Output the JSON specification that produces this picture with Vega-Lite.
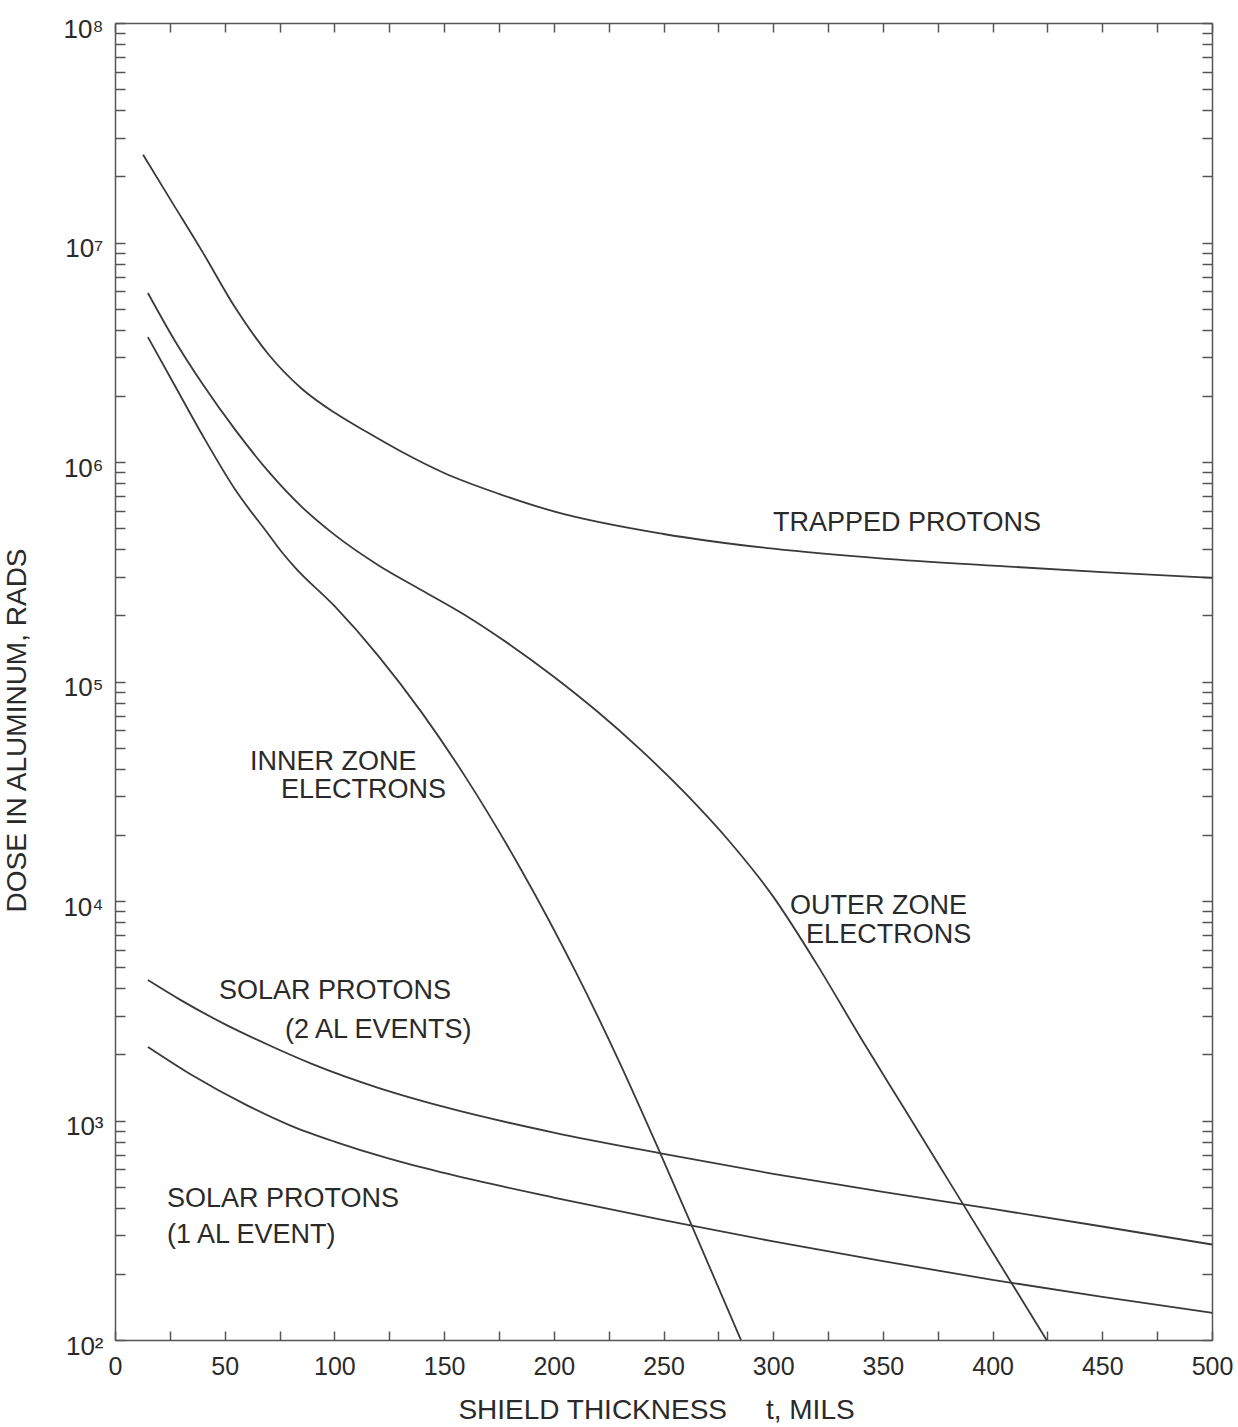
{
  "$schema": "https://vega.github.io/schema/vega-lite/v6.json",
  "width": 1097,
  "height": 1317,
  "autosize": {"type": "none"},
  "padding": {"left": 115, "top": 23, "right": 26, "bottom": 87},
  "background": "white",
  "config": {"view": {"stroke": null}, "font": "Liberation Sans"},
  "datasets": {
    "curves": [
      {"series": "trapped", "t": 12.8, "dose": 25120000},
      {"series": "trapped", "t": 25, "dose": 15850000},
      {"series": "trapped", "t": 40, "dose": 9016000},
      {"series": "trapped", "t": 55, "dose": 5012000},
      {"series": "trapped", "t": 70, "dose": 3090000},
      {"series": "trapped", "t": 85, "dose": 2163000},
      {"series": "trapped", "t": 100, "dose": 1679000},
      {"series": "trapped", "t": 115, "dose": 1365000},
      {"series": "trapped", "t": 130, "dose": 1122000},
      {"series": "trapped", "t": 150, "dose": 891300},
      {"series": "trapped", "t": 175, "dose": 716100},
      {"series": "trapped", "t": 200, "dose": 595700},
      {"series": "trapped", "t": 250, "dose": 469900},
      {"series": "trapped", "t": 300, "dose": 402700},
      {"series": "trapped", "t": 350, "dose": 363100},
      {"series": "trapped", "t": 400, "dose": 337300},
      {"series": "trapped", "t": 450, "dose": 314800},
      {"series": "trapped", "t": 500, "dose": 296500},

      {"series": "outer", "t": 15, "dose": 5888000},
      {"series": "outer", "t": 27, "dose": 3606000},
      {"series": "outer", "t": 40, "dose": 2259000},
      {"series": "outer", "t": 55, "dose": 1393000},
      {"series": "outer", "t": 70, "dose": 903600},
      {"series": "outer", "t": 85, "dose": 626600},
      {"series": "outer", "t": 100, "dose": 466700},
      {"series": "outer", "t": 120, "dose": 338800},
      {"series": "outer", "t": 140, "dose": 260000},
      {"series": "outer", "t": 160, "dose": 199500},
      {"series": "outer", "t": 180, "dose": 147200},
      {"series": "outer", "t": 200, "dose": 105200},
      {"series": "outer", "t": 220, "dose": 72780},
      {"series": "outer", "t": 240, "dose": 48420},
      {"series": "outer", "t": 260, "dose": 30900},
      {"series": "outer", "t": 280, "dose": 18710},
      {"series": "outer", "t": 300, "dose": 10470},
      {"series": "outer", "t": 320, "dose": 5129},
      {"series": "outer", "t": 340, "dose": 2371},
      {"series": "outer", "t": 360, "dose": 1122},
      {"series": "outer", "t": 380, "dose": 530.9},
      {"series": "outer", "t": 400, "dose": 251.2},
      {"series": "outer", "t": 424.6, "dose": 100},

      {"series": "inner", "t": 15, "dose": 3707000},
      {"series": "inner", "t": 27, "dose": 2254000},
      {"series": "inner", "t": 40, "dose": 1318000},
      {"series": "inner", "t": 55, "dose": 743000},
      {"series": "inner", "t": 70, "dose": 467700},
      {"series": "inner", "t": 76, "dose": 389000},
      {"series": "inner", "t": 82, "dose": 331100},
      {"series": "inner", "t": 100, "dose": 220800},
      {"series": "inner", "t": 120, "dose": 130900},
      {"series": "inner", "t": 140, "dose": 71780},
      {"series": "inner", "t": 160, "dose": 36390},
      {"series": "inner", "t": 185, "dose": 13960},
      {"series": "inner", "t": 210, "dose": 4753},
      {"series": "inner", "t": 230, "dose": 1837},
      {"series": "inner", "t": 248, "dose": 729.5},
      {"series": "inner", "t": 265, "dose": 296.5},
      {"series": "inner", "t": 285.3, "dose": 100},

      {"series": "solar2", "t": 15, "dose": 4365},
      {"series": "solar2", "t": 30, "dose": 3536},
      {"series": "solar2", "t": 50, "dose": 2748},
      {"series": "solar2", "t": 70, "dose": 2208},
      {"series": "solar2", "t": 90, "dose": 1807},
      {"series": "solar2", "t": 120, "dose": 1409},
      {"series": "solar2", "t": 150, "dose": 1153},
      {"series": "solar2", "t": 200, "dose": 881},
      {"series": "solar2", "t": 250, "dose": 704.7},
      {"series": "solar2", "t": 300, "dose": 571.5},
      {"series": "solar2", "t": 350, "dose": 473.2},
      {"series": "solar2", "t": 400, "dose": 395.4},
      {"series": "solar2", "t": 450, "dose": 328.9},
      {"series": "solar2", "t": 500, "dose": 272.3},

      {"series": "solar1", "t": 15, "dose": 2163},
      {"series": "solar1", "t": 35, "dose": 1611},
      {"series": "solar1", "t": 60, "dose": 1175},
      {"series": "solar1", "t": 80, "dose": 948.4},
      {"series": "solar1", "t": 100, "dose": 801.7},
      {"series": "solar1", "t": 125, "dose": 669.9},
      {"series": "solar1", "t": 150, "dose": 576.8},
      {"series": "solar1", "t": 200, "dose": 445.7},
      {"series": "solar1", "t": 250, "dose": 351.6},
      {"series": "solar1", "t": 300, "dose": 281.2},
      {"series": "solar1", "t": 350, "dose": 228.6},
      {"series": "solar1", "t": 400, "dose": 187.9},
      {"series": "solar1", "t": 450, "dose": 157.2},
      {"series": "solar1", "t": 500, "dose": 133.0}
    ],
    "labels": [
      {"t": 299.9, "dose": 527000, "text": "TRAPPED PROTONS"},
      {"t": 61.5, "dose": 43000, "text": "INNER ZONE"},
      {"t": 75.7, "dose": 32100, "text": "ELECTRONS"},
      {"t": 307.7, "dose": 9490, "text": "OUTER ZONE"},
      {"t": 315.0, "dose": 7000, "text": "ELECTRONS"},
      {"t": 47.4, "dose": 3890, "text": "SOLAR PROTONS"},
      {"t": 77.5, "dose": 2580, "text": "(2 AL EVENTS)"},
      {"t": 23.7, "dose": 439, "text": "SOLAR PROTONS"},
      {"t": 23.7, "dose": 301, "text": "(1 AL EVENT)"}
    ]
  },
  "layer": [
    {
      "data": {"name": "curves"},
      "mark": {"type": "line", "interpolate": "monotone", "color": "#3a3a3a", "strokeWidth": 1.8},
      "encoding": {
        "x": {
          "field": "t", "type": "quantitative",
          "scale": {"domain": [0, 500], "nice": false, "zero": false},
          "axis": {
            "orient": "bottom", "grid": false,
            "values": [0, 25, 50, 75, 100, 125, 150, 175, 200, 225, 250, 275, 300, 325, 350, 375, 400, 425, 450, 475, 500],
            "labelExpr": "datum.value % 50 == 0 ? datum.label : ''",
            "tickSize": -9, "tickWidth": 1.5, "tickColor": "#555",
            "domainColor": "#555", "domainWidth": 1.5,
            "labelPadding": 23, "labelFontSize": 25, "labelColor": "#2a2a2a", "labelFlush": false, "labelOverlap": false,
            "title": "SHIELD THICKNESS\u00a0\u00a0\u00a0\u00a0\u00a0t, MILS",
            "titleFontSize": 28, "titleFontWeight": "normal", "titleColor": "#2a2a2a",
            "titleX": 541, "titleY": 56, "titleBaseline": "top"
          }
        },
        "y": {
          "field": "dose", "type": "quantitative",
          "scale": {"type": "log", "domain": [100, 100000000], "nice": false},
          "axis": {
            "orient": "left", "grid": false,
            "values": [100, 200, 300, 400, 500, 600, 700, 800, 900, 1000, 2000, 3000, 4000, 5000, 6000, 7000, 8000, 9000, 10000, 20000, 30000, 40000, 50000, 60000, 70000, 80000, 90000, 100000, 200000, 300000, 400000, 500000, 600000, 700000, 800000, 900000, 1000000, 2000000, 3000000, 4000000, 5000000, 6000000, 7000000, 8000000, 9000000, 10000000, 20000000, 30000000, 40000000, 50000000, 60000000, 70000000, 80000000, 90000000, 100000000],
            "labelExpr": "datum.value == 100 ? '10²' : datum.value == 1000 ? '10³' : datum.value == 10000 ? '10⁴' : datum.value == 100000 ? '10⁵' : datum.value == 1000000 ? '10⁶' : datum.value == 10000000 ? '10⁷' : datum.value == 100000000 ? '10⁸' : ''",
            "tickSize": -10, "tickWidth": 1.5, "tickColor": "#555",
            "domainColor": "#555", "domainWidth": 1.5,
            "labelPadding": 22, "labelFontSize": 26, "labelColor": "#2a2a2a", "labelOverlap": false, "labelFlush": false,
            "labelOffset": 6,
            "title": "DOSE IN ALUMINUM, RADS",
            "titleFontSize": 28, "titleFontWeight": "normal", "titleColor": "#2a2a2a",
            "titleX": -84, "titleY": 707, "titleBaseline": "bottom", "titleAngle": 270
          }
        },
        "detail": {"field": "series"}
      }
    },
    {
      "data": {"name": "labels"},
      "mark": {"type": "text", "align": "left", "baseline": "middle", "fontSize": 27, "color": "#2a2a2a"},
      "encoding": {
        "x": {
          "field": "t", "type": "quantitative",
          "axis": {
            "orient": "top", "grid": false, "labels": false, "title": null,
            "values": [0, 25, 50, 75, 100, 125, 150, 175, 200, 225, 250, 275, 300, 325, 350, 375, 400, 425, 450, 475, 500],
            "tickSize": -9, "tickWidth": 1.5, "tickColor": "#555",
            "domainColor": "#555", "domainWidth": 1.5
          }
        },
        "y": {
          "field": "dose", "type": "quantitative",
          "axis": {
            "orient": "right", "grid": false, "labels": false, "title": null,
            "values": [100, 200, 300, 400, 500, 600, 700, 800, 900, 1000, 2000, 3000, 4000, 5000, 6000, 7000, 8000, 9000, 10000, 20000, 30000, 40000, 50000, 60000, 70000, 80000, 90000, 100000, 200000, 300000, 400000, 500000, 600000, 700000, 800000, 900000, 1000000, 2000000, 3000000, 4000000, 5000000, 6000000, 7000000, 8000000, 9000000, 10000000, 20000000, 30000000, 40000000, 50000000, 60000000, 70000000, 80000000, 90000000, 100000000],
            "tickSize": -10, "tickWidth": 1.5, "tickColor": "#555",
            "domainColor": "#555", "domainWidth": 1.5
          }
        },
        "text": {"field": "text"}
      }
    }
  ],
  "resolve": {"axis": {"x": "independent", "y": "independent"}}
}
